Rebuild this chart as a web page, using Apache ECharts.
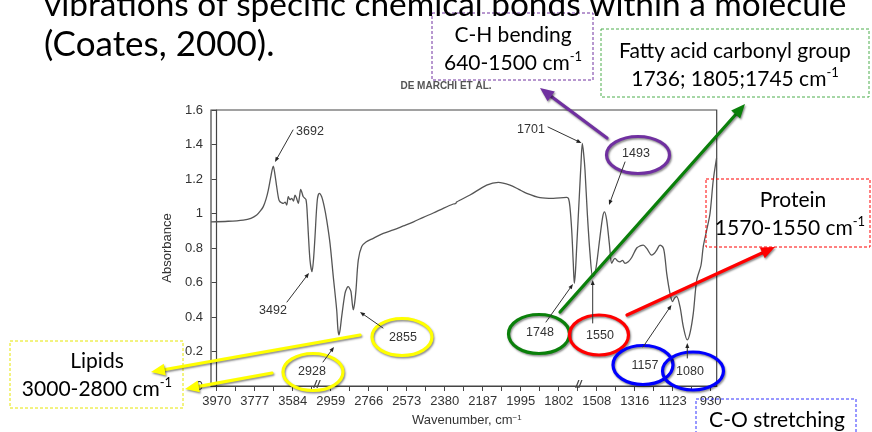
<!DOCTYPE html>
<html>
<head>
<meta charset="utf-8">
<script src="https://cdn.jsdelivr.net/npm/echarts@6/dist/echarts.min.js"></script>
<style>
  html, body { margin: 0; padding: 0; background: #fff; }
  #chart { width: 872px; height: 432px; }
</style>
</head>
<body>
<div id="chart"></div>
<script>
// Wavenumber labels printed under the (broken) x axis, one per major tick
const tickLabels = ['3970', '3777', '3584', '2959', '2766', '2573', '2380',
                    '2187', '1995', '1802', '1508', '1316', '1123', '930'];

// Spectrum: position along the axis (in label steps from 3970) and absorbance
const axisPos = [
  -0.15, 0.30, 0.70, 0.90, 1.053, 1.15, 1.226, 1.30, 1.358, 1.43, 1.489, 1.53, 1.579, 1.63,
  1.666, 1.71, 1.753, 1.80, 1.842, 1.884, 1.93, 1.974, 2.02, 2.061, 2.10, 2.147, 2.18, 2.211,
  2.245, 2.279, 2.35, 2.39, 2.411, 2.455, 2.508, 2.55, 2.587, 2.647, 2.70, 2.763, 2.83, 2.895,
  2.982, 3.068, 3.158, 3.19, 3.218, 3.25, 3.289, 3.376, 3.43, 3.463, 3.50, 3.534, 3.595, 3.63,
  3.666, 3.726, 3.816, 3.929, 4.121, 4.384, 4.65, 4.911, 5.18, 5.437, 5.70, 5.963, 6.226, 6.29,
  6.31, 6.666, 7.105, 7.411, 7.718, 7.95, 8.158, 8.508, 8.858, 9.211, 9.26, 9.295, 9.342, 9.384,
  9.411, 9.44, 9.474, 9.542, 9.587, 9.621, 9.655, 9.692, 9.753, 9.824, 9.895, 9.95, 10.0, 10.087,
  10.158, 10.205, 10.263, 10.332, 10.395, 10.44, 10.482, 10.55, 10.613, 10.68, 10.745, 10.83,
  10.921, 11.053, 11.14, 11.226, 11.316, 11.447, 11.52, 11.579, 11.666, 11.753, 11.80, 11.842,
  11.929, 11.995, 12.05, 12.105, 12.192, 12.279, 12.384, 12.455, 12.542, 12.632, 12.745, 12.805,
  12.895, 12.982, 13.068, 13.153
];
const absorbance = [
  0.952, 0.955, 0.962, 0.972, 0.991, 1.015, 1.04, 1.085, 1.136, 1.22, 1.275, 1.23, 1.155, 1.085,
  1.068, 1.062, 1.059, 1.066, 1.049, 1.097, 1.08, 1.088, 1.072, 1.107, 1.09, 1.059, 1.10, 1.14,
  1.12, 1.097, 1.08, 0.97, 0.885, 0.73, 0.663, 0.74, 0.866, 1.078, 1.117, 1.097, 1.04, 0.962,
  0.827, 0.634, 0.44, 0.33, 0.296, 0.33, 0.402, 0.537, 0.57, 0.576, 0.565, 0.547, 0.441, 0.48,
  0.557, 0.73, 0.808, 0.835, 0.856, 0.885, 0.905, 0.928, 0.952, 0.978, 1.003, 1.03, 1.055, 1.058,
  1.066, 1.107, 1.165, 1.181, 1.165, 1.14, 1.117, 1.092, 1.088, 1.093, 1.085, 1.04, 0.904, 0.711,
  0.595, 0.66, 0.808, 1.097, 1.29, 1.406, 1.35, 1.252, 1.001, 0.769, 0.634, 0.65, 0.711, 0.866,
  0.981, 1.01, 0.962, 0.827, 0.711, 0.73, 0.74, 0.725, 0.72, 0.728, 0.711, 0.72,
  0.745, 0.80, 0.812, 0.817, 0.798, 0.759, 0.77, 0.788, 0.817, 0.80, 0.74, 0.653,
  0.537, 0.489, 0.51, 0.518, 0.46, 0.344, 0.267, 0.306, 0.421, 0.614, 0.70, 0.81,
  0.904, 1.0, 1.194, 1.32
];

// Axis-break marks along the x axis
const breakPos = [2.63, 9.52];

// Slide text
const bodyLines = ['vibrations of specific chemical bonds within a molecule', '(Coates, 2000).'];
const sourceNote = 'DE MARCHI ET AL.';

// Peak labels on the spectrum
const peakLabels = ['3692', '3492', '1701', '1493', '2855', '2928', '1748', '1550', '1157', '1080'];

const chartFont = "'Liberation Sans', Arial, sans-serif";
const slideFont = "Lato, 'Open Sans', sans-serif";

const halfTicks = [];
for (let k = 0; k <= 26; k++) halfTicks.push(k / 2);
const labelTicks = tickLabels.map((_, i) => i);

const chart = echarts.init(document.getElementById('chart'), null, { renderer: 'canvas' });

function line(x1, y1, x2, y2, color, w, extra) {
  return {
    type: 'line', silent: true, z: 100,
    shape: { x1, y1, x2, y2 },
    style: Object.assign({ stroke: color, lineWidth: w, lineCap: 'round' }, extra || {})
  };
}
function head(x1, y1, x2, y2, len, wid, color, extra) {
  const dx = x2 - x1, dy = y2 - y1, d = Math.hypot(dx, dy);
  const ux = dx / d, uy = dy / d, px = -uy, py = ux;
  const bx = x2 - ux * len, by = y2 - uy * len;
  return {
    type: 'polygon', silent: true, z: 101,
    shape: { points: [[x2, y2], [bx + px * wid / 2, by + py * wid / 2], [bx - px * wid / 2, by - py * wid / 2]] },
    style: Object.assign({ fill: color }, extra || {})
  };
}
// thin leader with a small arrowhead (peak call-outs)
function leader(x1, y1, x2, y2) {
  const dx = x2 - x1, dy = y2 - y1, d = Math.hypot(dx, dy);
  return [
    line(x1, y1, x2 - dx / d * 3, y2 - dy / d * 3, '#333', 1),
    head(x1, y1, x2, y2, 5, 4, '#222')
  ];
}
const shadow = { shadowColor: 'rgba(0,0,0,0.45)', shadowBlur: 2, shadowOffsetX: 1, shadowOffsetY: 1.5 };
// thick slide arrow
function bigArrow(x1, y1, x2, y2, color) {
  const dx = x2 - x1, dy = y2 - y1, d = Math.hypot(dx, dy);
  return [
    line(x1, y1, x2 - dx / d * 10, y2 - dy / d * 10, color, 3.2, shadow),
    head(x1, y1, x2, y2, 14, 12, color, shadow)
  ];
}
function ring(cx, cy, rx, ry, color) {
  return {
    type: 'ellipse', silent: true, z: 99,
    shape: { cx, cy, rx, ry },
    style: Object.assign({ fill: 'none', stroke: color, lineWidth: 3.2 }, shadow)
  };
}
function label(x, y, text, size, font, fill, extra) {
  return {
    type: 'text', silent: true, z: 102,
    style: Object.assign({
      text, x, y, fill: fill || '#333', fontSize: size, fontFamily: font,
      align: 'center', verticalAlign: 'middle'
    }, extra || {})
  };
}
function box(x, y, w, h, color) {
  return {
    type: 'rect', silent: true, z: 98,
    shape: { x, y, width: w, height: h },
    style: { fill: 'none', stroke: color, lineWidth: 1, lineDash: [3, 2] }
  };
}
function supText(x, y, main, sup) {
  return label(x, y, '{a|' + main + '}{s|' + sup + '}', 21, slideFont, '#000', {
    rich: {
      a: { fontSize: 21, fontFamily: slideFont, fill: '#000', lineHeight: 26 },
      s: { fontSize: 13, fontFamily: slideFont, fill: '#000', verticalAlign: 'top', lineHeight: 26 }
    }
  });
}

const option = {
  animation: false,
  backgroundColor: '#fff',
  grid: { left: 211, top: 110, right: 155.3, bottom: 46, show: true, borderColor: '#444', borderWidth: 1.2, backgroundColor: 'transparent' },
  xAxis: {
    type: 'value', min: -0.15, max: 13.158,
    name: 'Wavenumber, cm{s|−1}', nameLocation: 'middle', nameGap: 28,
    nameTextStyle: { color: '#333', fontSize: 13, fontFamily: chartFont, padding: [0, 0, 0, 6],
      rich: { s: { fontSize: 8, color: '#333', fontFamily: chartFont, verticalAlign: 'top', padding: [0, 0, 4, 0] } } },
    axisLine: { show: true, lineStyle: { color: '#444', width: 1.2 } },
    axisTick: { show: true, inside: false, length: 5, customValues: halfTicks, lineStyle: { color: '#444' } },
    axisLabel: { customValues: labelTicks, margin: 9, color: '#333', fontSize: 13, fontFamily: chartFont,
      formatter: v => tickLabels[Math.round(v)] },
    splitLine: { show: false }
  },
  yAxis: {
    type: 'value', min: 0, max: 1.6, interval: 0.2,
    name: 'Absorbance', nameLocation: 'middle', nameGap: 37, nameRotate: 90,
    nameTextStyle: { color: '#333', fontSize: 13, fontFamily: chartFont },
    axisLine: { show: true, lineStyle: { color: '#444', width: 1.2 } },
    axisTick: { show: true, inside: false, length: 5, lineStyle: { color: '#444' } },
    axisLabel: { margin: 8, color: '#333', fontSize: 13, fontFamily: chartFont },
    splitLine: { show: false }
  },
  series: [{
    type: 'line',
    data: axisPos.map((p, i) => [p, absorbance[i]]),
    showSymbol: false,
    smooth: 0.3,
    lineStyle: { color: '#555', width: 1.3 },
    z: 5
  }]
};
chart.setOption(option);

// pixel positions of the axis-break marks
const breakMarks = breakPos.map(p => {
  const pt = chart.convertToPixel({ gridIndex: 0 }, [p, 0]);
  return label(pt[0], pt[1] - 1, '//', 11, chartFont, '#444', { fontStyle: 'italic', fontWeight: 'bold' });
});

const graphic = [
  // slide body text
  label(44, 5, bodyLines[0], 33.4, slideFont, '#000', { align: 'left' }),
  label(44, 45, bodyLines[1], 35, slideFont, '#000', { align: 'left' }),
  label(446, 86, sourceNote, 10, "'Liberation Sans Narrow', 'Liberation Sans', sans-serif", '#555', { fontWeight: 'bold' }),

  // peak labels on the plot
  label(310, 132, peakLabels[0], 12.5, chartFont),
  label(273, 311, peakLabels[1], 12.5, chartFont),
  label(531, 130, peakLabels[2], 12.5, chartFont),
  label(636, 154, peakLabels[3], 12.5, chartFont),
  label(403, 338, peakLabels[4], 12.5, chartFont),
  label(312, 372, peakLabels[5], 12.5, chartFont),
  label(540, 333, peakLabels[6], 12.5, chartFont),
  label(600, 336, peakLabels[7], 12.5, chartFont),
  label(645, 366, peakLabels[8], 12.5, chartFont),
  label(690, 372, peakLabels[9], 12.5, chartFont),
  ...leader(293, 130, 275, 162),
  ...leader(287, 302, 309, 273),
  ...leader(548, 127, 581.5, 143),
  ...leader(625, 162, 609, 205),
  ...leader(383, 328, 360, 312),
  ...leader(323, 362, 334, 347),
  ...leader(546, 322, 573, 284),
  ...leader(592.7, 323, 592.7, 280),
  ...leader(643, 347, 671.5, 305),
  ...leader(687.3, 358, 687.3, 343),
  ...breakMarks,

  // highlighted peaks
  ring(638, 155, 31.5, 18.5, '#7030a0'),
  ring(402, 337, 30, 18.5, '#ffff00'),
  ring(313, 372, 30, 18.5, '#ffff00'),
  ring(539, 334, 30.5, 19.5, '#0a800a'),
  ring(599, 335, 29.5, 20, '#ff0000'),
  ring(643, 365, 30, 19.5, '#0000ff'),
  ring(693, 371, 30.5, 19, '#0000ff'),

  // arrows to the band assignments
  ...bigArrow(607, 138, 540, 88, '#7030a0'),
  ...bigArrow(560, 312, 745, 104, '#0a800a'),
  ...bigArrow(627, 315, 775, 247, '#ff0000'),
  ...bigArrow(360, 335, 151, 372, '#ffff00'),
  ...bigArrow(272, 373, 185, 389, '#ffff00'),

  // band-assignment boxes
  box(432, 13, 161, 67, '#7030a0'),
  label(513, 35, 'C-H bending', 21, slideFont, '#000'),
  supText(513, 63, '640-1500 cm', '-1'),

  box(601, 29, 268, 68, '#4cae4c'),
  label(735, 51, 'Fatty acid carbonyl group', 21, slideFont, '#000'),
  supText(735, 79, '1736; 1805;1745 cm', '-1'),

  box(706, 179, 164, 68, '#ff0000'),
  label(793, 200, 'Protein', 21, slideFont, '#000'),
  supText(790, 228, '1570-1550 cm', '-1'),

  box(10, 341, 173, 67, '#e6e600'),
  label(97, 361, 'Lipids', 21, slideFont, '#000'),
  supText(97, 389, '3000-2800 cm', '-1'),

  box(696, 399, 160, 40, '#3333ff'),
  label(777, 420, 'C-O stretching', 21, slideFont, '#000')
];

chart.setOption({ graphic });
</script>
</body>
</html>
